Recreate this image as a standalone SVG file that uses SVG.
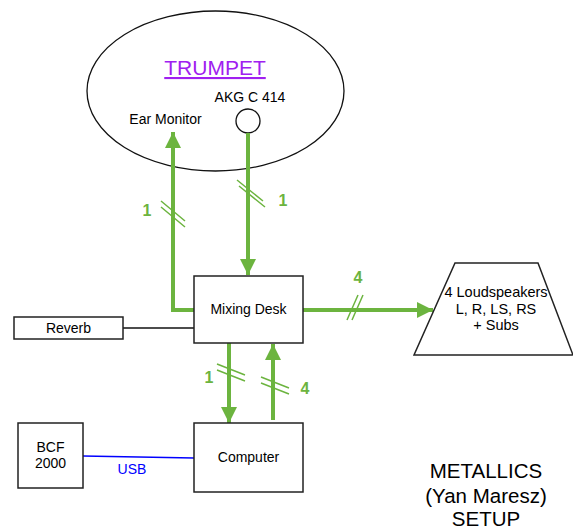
<svg xmlns="http://www.w3.org/2000/svg" width="573" height="532" viewBox="0 0 573 532">
<defs>
<style>
.box{fill:#fff;stroke:#222;stroke-width:1.5}
.t{font-family:"Liberation Sans",Arial,sans-serif;font-size:14px;fill:#000;text-anchor:middle}
.g{stroke:#6cb43f;stroke-width:4;fill:none}
.s{stroke:#6cb43f;stroke-width:1.5;fill:none}
.gl{font-family:"Liberation Sans",Arial,sans-serif;font-size:16px;font-weight:bold;fill:#6cb43f;text-anchor:middle}
</style>
<marker id="ah" viewBox="0 0 10 10" refX="10" refY="5" markerWidth="4" markerHeight="4.2" orient="auto" markerUnits="strokeWidth">
<path d="M0,0 L10,5 L0,10 Z" fill="#6cb43f"/>
</marker>
</defs>
<rect width="573" height="532" fill="#fff"/>
<g id="trumpet">
<ellipse cx="215.5" cy="91" rx="128.5" ry="80" fill="#fff" stroke="#111" stroke-width="1.3"/>
<text x="215" y="75" class="t" style="font-size:21px;fill:#a020f0;text-decoration:underline">TRUMPET</text>
<text x="250" y="102" class="t">AKG C 414</text>
<text x="165.5" y="124" class="t">Ear Monitor</text>
<circle cx="248" cy="121" r="12" fill="#fff" stroke="#111" stroke-width="1.3"/>
</g>
<g id="connectors">
<line x1="248" y1="133" x2="248" y2="275" class="g" marker-end="url(#ah)"/>
<polyline points="194,310 173,310 173,132" class="g" marker-end="url(#ah)"/>
<line x1="303" y1="310" x2="433" y2="310" class="g" marker-end="url(#ah)"/>
<line x1="229" y1="343" x2="229" y2="423" class="g" marker-end="url(#ah)"/>
<line x1="273" y1="420" x2="273" y2="344" class="g" marker-end="url(#ah)"/>
<line x1="123" y1="328" x2="194" y2="328" stroke="#111" stroke-width="1.5"/>
<line x1="83" y1="456" x2="194" y2="458" stroke="#0000ff" stroke-width="1.5"/>
<path class="s" d="M237,180 L263,201 M239,186 L265,207"/>
<path class="s" d="M161,201 L185,221 M161,207 L185,227"/>
<path class="s" d="M347,320 L358,295 M352,320 L363,295"/>
<path class="s" d="M217,364 L245,375 M217,370 L245,381"/>
<path class="s" d="M261,377 L289,388 M261,383 L289,394"/>
<text x="283" y="206" class="gl">1</text>
<text x="147" y="216" class="gl">1</text>
<text x="358" y="283" class="gl">4</text>
<text x="209" y="383" class="gl">1</text>
<text x="305" y="394" class="gl">4</text>
<text x="132" y="474" class="t" style="fill:#0000ff">USB</text>
</g>
<g id="mixing-desk">
<rect x="194" y="276" width="109" height="67" class="box"/>
<text x="248.5" y="314" class="t">Mixing Desk</text>
</g>
<g id="reverb">
<rect x="14" y="317" width="109" height="22" class="box"/>
<text x="68.5" y="333" class="t">Reverb</text>
</g>
<g id="loudspeakers">
<polygon points="455,263 538,263 573,355 414,355" class="box"/>
<text x="496" y="297" class="t" style="font-size:14.5px">4 Loudspeakers</text>
<text x="496" y="314" class="t" style="font-size:14.5px">L, R, LS, RS</text>
<text x="496" y="330" class="t" style="font-size:14.5px">+ Subs</text>
</g>
<g id="computer">
<rect x="194" y="423" width="109" height="69" class="box"/>
<text x="248.5" y="462" class="t">Computer</text>
</g>
<g id="bcf2000">
<rect x="18" y="423" width="65" height="65" class="box"/>
<text x="50.5" y="452" class="t">BCF</text>
<text x="50.5" y="468" class="t">2000</text>
</g>
<g id="title">
<text x="486" y="478" class="t" style="font-size:20.5px">METALLICS</text>
<text x="486" y="503" class="t" style="font-size:20.5px">(Yan Maresz)</text>
<text x="486" y="526" class="t" style="font-size:20.5px">SETUP</text>
</g>
</svg>
